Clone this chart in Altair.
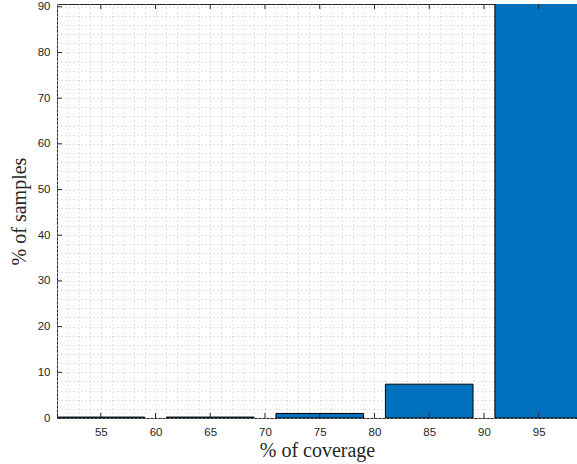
import altair as alt
import pandas as pd

# Histogram of coverage: bin centres (percent), bin width and share of samples per bin
bin_centers = [55, 65, 75, 85, 95]
bin_width = 8
samples_pct = [0.2, 0.2, 1.0, 7.4, 91.2]

# Axis ticks (major, labelled) and minor grid positions
x_major = [55, 60, 65, 70, 75, 80, 85, 90, 95]
y_major = [0, 10, 20, 30, 40, 50, 60, 70, 80, 90]
x_minor = list(range(51, 99))
y_minor = list(range(0, 91, 2))

AX = "#262626"
BLUE = "#0072BD"
GRID = "#c4c4c4"
W, H = 520, 414
TICK = 5
X_TITLE = "% of coverage"
Y_TITLE = "% of samples"

bars = pd.DataFrame({
    "start": [c - bin_width / 2 for c in bin_centers],
    "end": [c + bin_width / 2 for c in bin_centers],
    "pct": samples_pct,
})
xt = pd.DataFrame({"v": x_major})
yt = pd.DataFrame({"v": y_major})

xs = alt.Scale(domain=[51, 98.5], nice=False, zero=False)
ys = alt.Scale(domain=[0, 90.6], nice=False)

x_axis = alt.Axis(
    values=x_minor,
    labelExpr="datum.value % 5 == 0 ? datum.label : ''",
    grid=True, gridDash=[1, 3], gridColor=GRID, gridWidth=1,
    ticks=False, domain=False, labelOverlap=False, labelFlush=False,
    labelFont="Liberation Sans", labelFontSize=11.5, labelColor=AX, labelPadding=8,
    titleFont="Liberation Serif", titleFontSize=20, titleFontWeight="normal",
    titleColor=AX, titlePadding=3,
)
y_axis = alt.Axis(
    values=y_minor,
    labelExpr="datum.value % 10 == 0 ? datum.label : ''",
    grid=True, gridDash=[1, 3], gridColor=GRID, gridWidth=1,
    ticks=False, domain=False, labelOverlap=False, labelFlush=False,
    labelFont="Liberation Sans", labelFontSize=11.5, labelColor=AX, labelPadding=7,
    titleFont="Liberation Serif", titleFontSize=20, titleFontWeight="normal",
    titleColor=AX, titlePadding=8,
)

hist = alt.Chart(bars).mark_bar(
    color=BLUE, stroke="black", strokeWidth=1, clip=True
).encode(
    x=alt.X("start:Q", scale=xs, axis=x_axis, title=X_TITLE),
    x2="end:Q",
    y=alt.Y("pct:Q", scale=ys, axis=y_axis, title=Y_TITLE),
    y2=alt.datum(0),
)

# Inward-pointing tick marks on the bottom, top and left edges of the box
x_ticks_bottom = alt.Chart(xt).mark_rule(color=AX, strokeWidth=1).encode(
    x=alt.X("v:Q", scale=xs, axis=x_axis, title=X_TITLE),
    y=alt.value(H), y2=alt.value(H - TICK),
)
x_ticks_top = alt.Chart(xt).mark_rule(color=AX, strokeWidth=1).encode(
    x=alt.X("v:Q", scale=xs, axis=x_axis, title=X_TITLE),
    y=alt.value(0), y2=alt.value(TICK),
)
y_ticks_left = alt.Chart(yt).mark_rule(color=AX, strokeWidth=1).encode(
    y=alt.Y("v:Q", scale=ys, axis=y_axis, title=Y_TITLE),
    x=alt.value(0), x2=alt.value(TICK),
)

chart = alt.layer(hist, x_ticks_bottom, x_ticks_top, y_ticks_left).properties(
    width=W, height=H,
    autosize=alt.AutoSizeParams(type="none"),
    padding={"left": 57, "top": 4, "right": 0, "bottom": 46},
    background="white",
).configure_view(stroke=AX, strokeWidth=1)

chart.save("out.html", embed_options={"renderer": "svg", "actions": False})
